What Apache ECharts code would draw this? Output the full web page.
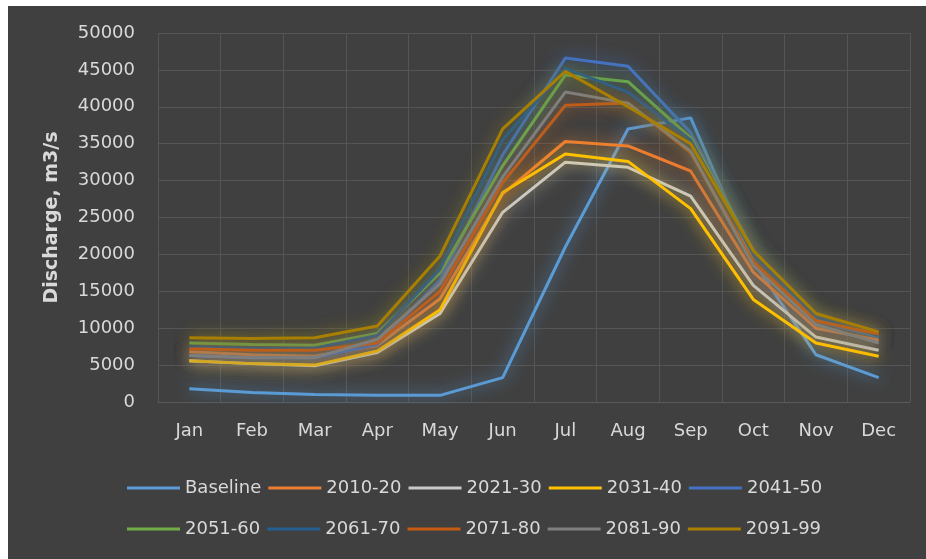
<!DOCTYPE html>
<html>
<head>
<meta charset="utf-8">
<script src="https://cdn.jsdelivr.net/npm/echarts@6/dist/echarts.min.js"></script>
<style>
    html, body { margin: 0; padding: 0; background: #ffffff; }
    #chart { position: absolute; left: 8px; top: 6px; width: 918px; height: 553px; }
</style>
</head>
<body>
<div id="chart"></div>
<script>
// 月份
var months = ['Jan', 'Feb', 'Mar', 'Apr', 'May', 'Jun', 'Jul', 'Aug', 'Sep', 'Oct', 'Nov', 'Dec'];

// 各时段流量 (m3/s)
var baseline = [1800, 1300, 1000, 900, 900, 3300, 21000, 37000, 38500, 19000, 6400, 3300];
var p2010_20 = [6800, 6400, 6200, 7700, 14000, 28200, 35300, 34700, 31300, 17600, 10000, 8400];
var p2021_30 = [5600, 5200, 4900, 6700, 12000, 25700, 32500, 31800, 27900, 15800, 8800, 7000];
var p2031_40 = [5600, 5200, 5000, 6900, 12500, 28400, 33600, 32600, 26200, 13900, 8000, 6200];
var p2041_50 = [6300, 6000, 6000, 7800, 16500, 33500, 46600, 45500, 36500, 20500, 11000, 8800];
var p2051_60 = [8000, 7800, 7700, 9300, 17500, 32000, 44300, 43400, 35800, 20500, 11500, 9000];
var p2061_70 = [7500, 7300, 7300, 9000, 18000, 35500, 45200, 42000, 35500, 20000, 11500, 9000];
var p2071_80 = [7200, 7000, 7000, 8000, 15000, 29700, 40200, 40500, 33800, 19000, 11000, 9200];
var p2081_90 = [6300, 6000, 6000, 8500, 16000, 30500, 42000, 40500, 34000, 18500, 10500, 8000];
var p2091_99 = [8700, 8600, 8700, 10300, 19800, 37000, 44800, 40000, 35000, 20500, 12000, 9500];

var names = ['Baseline', '2010-20', '2021-30', '2031-40', '2041-50', '2051-60', '2061-70', '2071-80', '2081-90', '2091-99'];
var values = [baseline, p2010_20, p2021_30, p2031_40, p2041_50, p2051_60, p2061_70, p2071_80, p2081_90, p2091_99];
var colors = ['#5b9bd5', '#ed7d31', '#c9c9c9', '#ffc000', '#4472c4', '#70ad47', '#255e91', '#c55a11', '#7f7f7f', '#a87f00'];

var font = 'DejaVu Sans';
var chart = echarts.init(document.getElementById('chart'));

var series = [];
for (var i = 0; i < names.length; i++) {
    series.push({
        name: names[i],
        type: 'line',
        data: values[i],
        symbol: 'none',
        lineStyle: {
            width: 3,
            color: colors[i],
            shadowColor: colors[i],
            shadowBlur: 16
        },
        itemStyle: { color: colors[i] }
    });
}

var legendText = { color: '#d9d9d9', fontSize: 18, fontFamily: font };

chart.setOption({
    backgroundColor: '#404040',
    animation: false,
    grid: { left: 150, right: 16, top: 27, bottom: 157 },
    legend: [{
        data: names.slice(0, 5),
        left: 114, top: 468,
        icon: 'rect',
        itemWidth: 53, itemHeight: 3, itemGap: 7,
        textStyle: legendText
    }, {
        data: names.slice(5),
        left: 114, top: 509,
        icon: 'rect',
        itemWidth: 53, itemHeight: 3, itemGap: 7,
        textStyle: legendText
    }],
    xAxis: {
        type: 'category',
        data: months,
        boundaryGap: true,
        axisLine: { show: true, lineStyle: { color: '#5a5a5a' } },
        axisTick: { show: false },
        axisLabel: { color: '#d9d9d9', fontSize: 18, fontFamily: font, margin: 20 },
        splitLine: { show: true, lineStyle: { color: '#555555' } }
    },
    yAxis: {
        type: 'value',
        min: 0, max: 50000, interval: 5000,
        name: 'Discharge, m3/s',
        nameLocation: 'middle',
        nameGap: 96,
        nameTextStyle: { color: '#d9d9d9', fontSize: 19, fontWeight: 'bold', fontFamily: font },
        axisLine: { show: false },
        axisTick: { show: false },
        axisLabel: {
            color: '#d9d9d9', fontSize: 18, fontFamily: font, margin: 23,
            formatter: function(v) { return String(v); }
        },
        splitLine: { lineStyle: { color: '#555555' } }
    },
    series: series
});
</script>
</body>
</html>
